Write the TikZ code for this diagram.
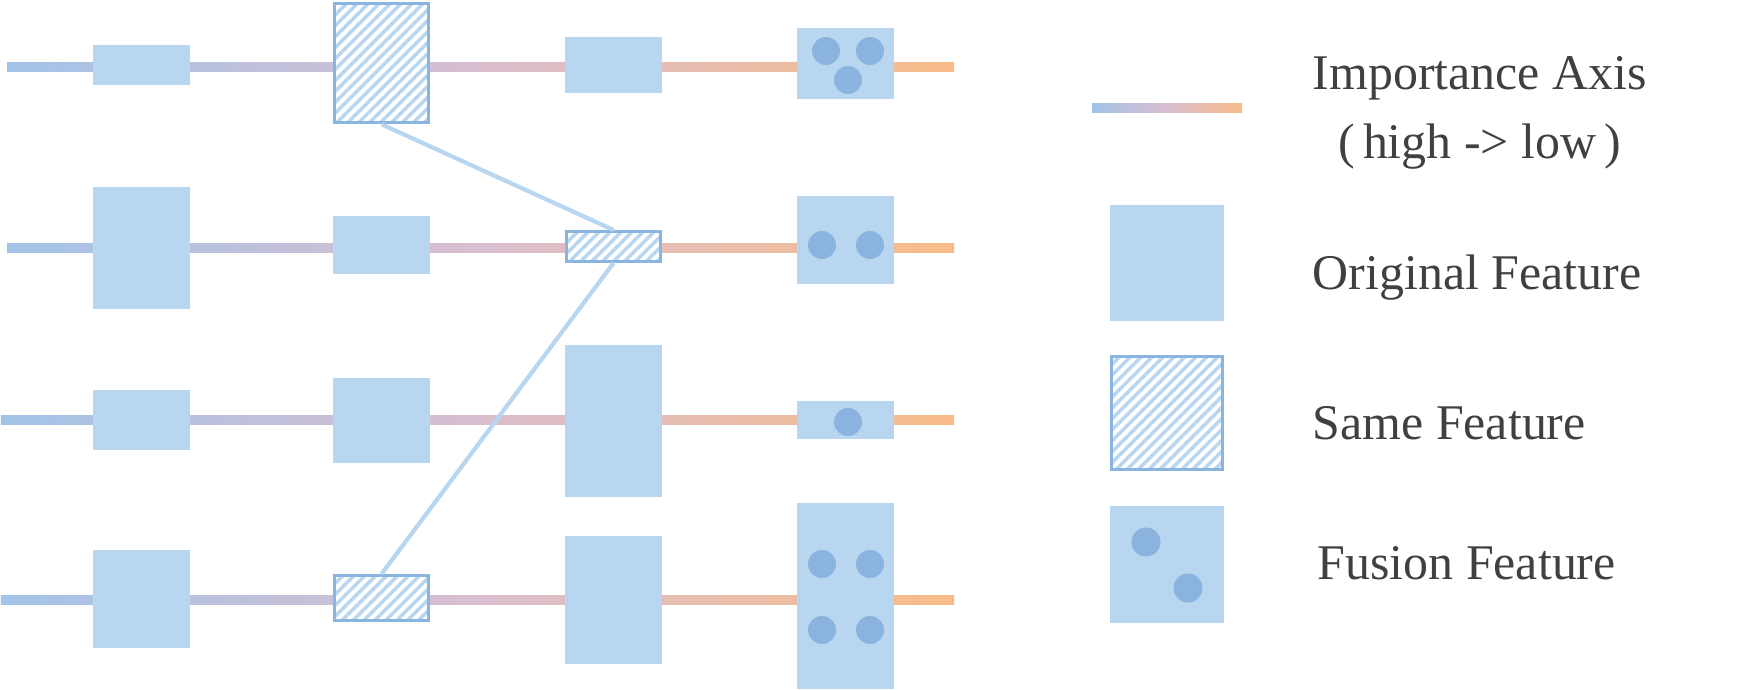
\documentclass[tikz,border=0pt]{standalone}
\usepackage{fontspec}
\setmainfont{Liberation Serif}
\usetikzlibrary{patterns.meta}
\definecolor{featblue}{HTML}{B8D6F0}
\definecolor{dotblue}{HTML}{8AB4DF}
\definecolor{edgeblue}{HTML}{8AB5E1}
\definecolor{axisblue}{HTML}{A2C3E8}
\definecolor{axispink}{HTML}{D9BECF}
\definecolor{axisorange}{HTML}{F7BC88}
\definecolor{legendgray}{HTML}{404040}

\begin{document}
\begin{tikzpicture}[
    orig/.style={rectangle, fill=featblue, inner sep=0pt, minimum width=0.97cm},
    samefeat/.style={rectangle, draw=edgeblue, line width=0.85pt, inner sep=0pt,
      minimum width=0.94cm, preaction={fill=white},
      pattern={Lines[angle=45,distance=2.2pt,line width=1pt]}, pattern color=featblue},
    featdot/.style={fill=dotblue},
    axisline/.style={left color=axisblue, right color=axisorange, middle color=axispink},
    link/.style={draw=featblue, line width=1.2pt},
    legtext/.style={text=legendgray, inner sep=0pt, font=\fontsize{14.2pt}{17pt}\selectfont}
  ]
    \useasboundingbox (0,0) rectangle (17.48,6.89);
    \foreach \y/\x in {6.225/0.07, 4.415/0.07, 2.695/0.01, 0.895/0.01}
      \shade[axisline] (\x,\y-0.045) rectangle (9.54,\y+0.045);

    \node[orig, minimum height=0.40cm] (a1) at (1.415,6.24) {};
    \node[samefeat, minimum height=1.19cm] (b1) at (3.815,6.26) {};
    \node[orig, minimum height=0.56cm] (c1) at (6.135,6.24) {};
    \node[orig, minimum height=0.71cm] (d1) at (8.45,6.255) {};

    \node[orig, minimum height=1.22cm] (a2) at (1.415,4.41) {};
    \node[orig, minimum height=0.58cm] (b2) at (3.815,4.44) {};
    \node[samefeat, minimum height=0.30cm] (c2) at (6.135,4.425) {};
    \node[orig, minimum height=0.88cm] (d2) at (8.45,4.49) {};

    \node[orig, minimum height=0.60cm] (a3) at (1.415,2.69) {};
    \node[orig, minimum height=0.85cm] (b3) at (3.815,2.685) {};
    \node[orig, minimum height=1.52cm] (c3) at (6.135,2.68) {};
    \node[orig, minimum height=0.38cm] (d3) at (8.45,2.69) {};

    \node[orig, minimum height=0.98cm] (a4) at (1.415,0.90) {};
    \node[samefeat, minimum height=0.45cm] (b4) at (3.815,0.91) {};
    \node[orig, minimum height=1.28cm] (c4) at (6.135,0.89) {};
    \node[orig, minimum height=1.86cm] (d4) at (8.45,0.93) {};

    \draw[link] (b1.south) -- (c2.north);
    \draw[link] (c2.south) -- (b4.north);

    \fill[featdot] (8.26,6.38) circle (0.14);
    \fill[featdot] (8.70,6.38) circle (0.14);
    \fill[featdot] (8.48,6.09) circle (0.14);
    \fill[featdot] (8.22,4.44) circle (0.14);
    \fill[featdot] (8.70,4.44) circle (0.14);
    \fill[featdot] (8.48,2.67) circle (0.14);
    \fill[featdot] (8.22,1.25) circle (0.14);
    \fill[featdot] (8.70,1.25) circle (0.14);
    \fill[featdot] (8.22,0.59) circle (0.14);
    \fill[featdot] (8.70,0.59) circle (0.14);

    \shade[axisline] (10.92,5.77) rectangle (12.42,5.86);
    \node[orig, minimum width=1.14cm, minimum height=1.16cm] (legorig) at (11.67,4.26) {};
    \node[samefeat, minimum width=1.11cm, minimum height=1.13cm] (legsame) at (11.67,2.76) {};
    \node[orig, minimum width=1.14cm, minimum height=1.17cm] (legfuse) at (11.665,1.245) {};
    \fill[featdot] (11.46,1.47) circle (0.145);
    \fill[featdot] (11.88,1.01) circle (0.145);

    \node[legtext, anchor=base west] (axislabel) at (13.12,6.00) {Importance Axis};
    \node[legtext, anchor=base] (axisnote) at ([yshift=-0.69cm]axislabel.base) {(\,high -> low\,)};
    \node[legtext, anchor=base west] (origlabel) at (13.12,4.00) {Original Feature};
    \node[legtext, anchor=base west] (samelabel) at (13.12,2.50) {Same Feature};
    \node[legtext, anchor=base west] (fuselabel) at (13.17,1.10) {Fusion Feature};
  \end{tikzpicture}
\end{document}
